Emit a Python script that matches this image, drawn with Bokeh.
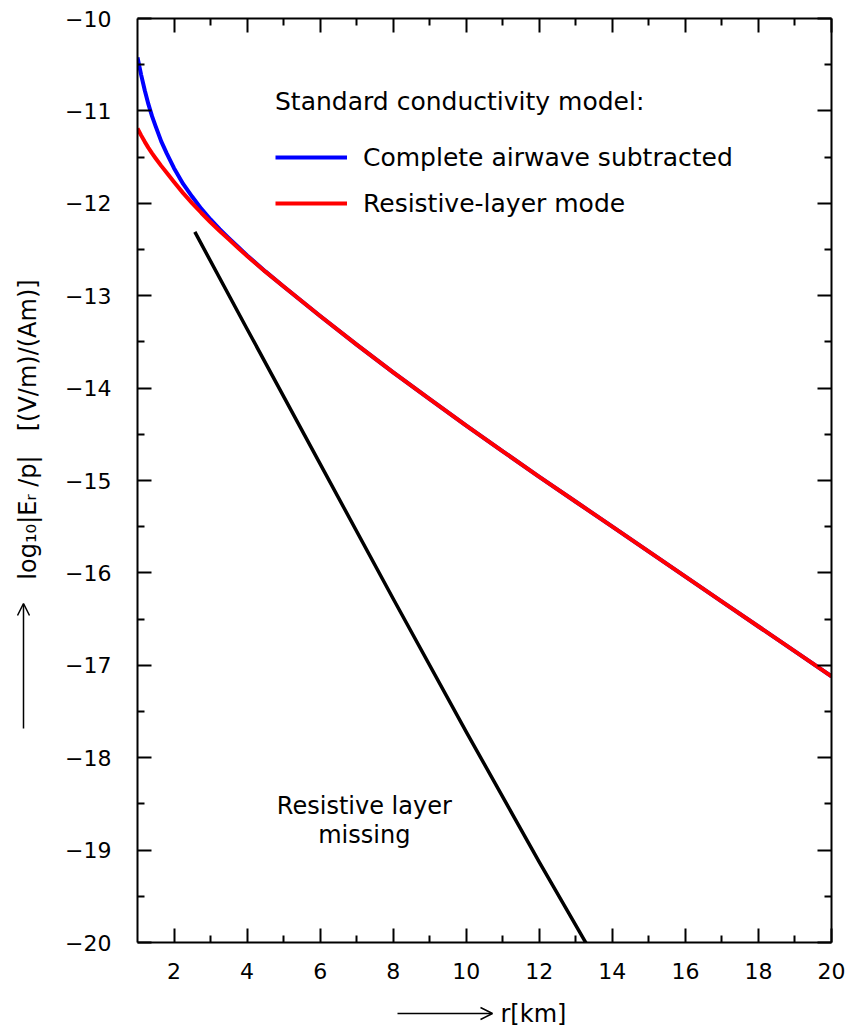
import math
from bokeh.plotting import figure
from bokeh.layouts import row, column
from bokeh.models import (LinearAxis, FixedTicker, Legend, LegendItem, Label,
                          Arrow, OpenHead, CustomJSTickFormatter, Range1d)
from bokeh.embed import file_html
from bokeh.resources import INLINE

FONT = "DejaVu Sans"

# ---- data ----
r_blue = [1.0, 1.1, 1.2, 1.3, 1.4, 1.5, 1.65, 1.8, 2.0, 2.25, 2.5, 2.75, 3.0,
          3.25, 3.5, 3.75, 4.0, 4.5, 5.0, 5.5, 6, 7, 8, 9, 10, 11, 12, 13, 14,
          15, 16, 17, 18, 19, 20]
e_blue = [-10.42, -10.61, -10.78, -10.93, -11.06, -11.17, -11.33, -11.46, -11.62,
          -11.79, -11.93, -12.06, -12.175, -12.28, -12.377, -12.47, -12.564,
          -12.737, -12.90, -13.06, -13.22, -13.53, -13.83, -14.12, -14.405,
          -14.685, -14.96, -15.23, -15.50, -15.77, -16.04, -16.31, -16.58,
          -16.85, -17.12]

r_red = [1.0, 1.1, 1.2, 1.3, 1.4, 1.5, 1.65, 1.8, 2.0, 2.25, 2.5, 2.75, 3.0,
         3.25, 3.5, 3.75, 4.0, 4.5, 5.0, 5.5, 6, 7, 8, 9, 10, 11, 12, 13, 14,
         15, 16, 17, 18, 19, 20]
e_red = [-11.19, -11.265, -11.335, -11.40, -11.46, -11.515, -11.595, -11.67,
         -11.77, -11.89, -12.00, -12.105, -12.205, -12.30, -12.39, -12.48,
         -12.57, -12.74, -12.90, -13.06, -13.22, -13.53, -13.83, -14.12,
         -14.405, -14.685, -14.96, -15.23, -15.50, -15.77, -16.04, -16.31,
         -16.58, -16.85, -17.12]

r_black = [2.57, 4.0, 6.0, 8.0, 10.0, 12.0, 13.3]
e_black = [-12.31, -13.36, -14.82, -16.28, -17.72, -19.13, -20.02]

x_major = [2, 4, 6, 8, 10, 12, 14, 16, 18, 20]
x_minor = [3, 5, 7, 9, 11, 13, 15, 17, 19]
y_major = [-10, -11, -12, -13, -14, -15, -16, -17, -18, -19, -20]
y_minor = [-10.5, -11.5, -12.5, -13.5, -14.5, -15.5, -16.5, -17.5, -18.5, -19.5]
y_labels = {v: "\u2212" + str(-v) for v in y_major}

label_blue = "Complete airwave subtracted"
label_red = "Resistive-layer mode"
legend_title = "Standard conductivity model:"
note_text = ["Resistive layer", "missing"]
y_title = "log\u2081\u2080|E\u1d63 /p|\u2003[(V/m)/(Am)]"
x_title = "r[km]"

# ---- main figure ----
p = figure(width=787, height=990, x_range=(1, 20), y_range=(-20, -10),
           output_backend="svg", toolbar_location=None,
           min_border_left=77, min_border_right=16, min_border_top=18,
           min_border_bottom=48)
p.xgrid.visible = False
p.ygrid.visible = False
p.outline_line_color = None
p.background_fill_color = "white"
p.border_fill_color = "white"

xt = FixedTicker(ticks=x_major, minor_ticks=x_minor)
yt = FixedTicker(ticks=y_major, minor_ticks=y_minor)


def style(ax):
    ax.axis_line_width = 2
    ax.axis_line_color = "black"
    ax.major_tick_in = 14
    ax.major_tick_out = 0
    ax.minor_tick_in = 7
    ax.minor_tick_out = 0
    ax.major_tick_line_width = 2
    ax.minor_tick_line_width = 2
    ax.major_tick_line_color = "black"
    ax.minor_tick_line_color = "black"
    ax.major_label_text_font = FONT
    ax.major_label_text_font_size = "22px"
    ax.major_label_text_color = "black"


bx = p.xaxis[0]
bx.ticker = xt
style(bx)
bx.major_label_standoff = 20

ly = p.yaxis[0]
ly.ticker = yt
style(ly)
ly.major_label_overrides = y_labels
ly.major_label_standoff = 26

empty = CustomJSTickFormatter(code="return ''")
top = LinearAxis(ticker=xt, formatter=empty)
style(top)
top.major_label_text_font_size = "0px"
top.major_label_standoff = 0
p.add_layout(top, "above")

right = LinearAxis(ticker=yt, formatter=empty)
style(right)
right.major_label_text_font_size = "0px"
right.major_label_standoff = 0
p.add_layout(right, "right")

# ---- curves ----
rb = p.line(r_blue, e_blue, line_color="#0000ff", line_width=4, line_join="round")
rr = p.line(r_red, e_red, line_color="#ff0000", line_width=4, line_join="round")
rk = p.line(r_black, e_black, line_color="black", line_width=3.5, line_join="round")

legend = Legend(items=[LegendItem(label=label_blue, renderers=[rb]),
                       LegendItem(label=label_red, renderers=[rr])],
                title=legend_title, location=(138, 724))
legend.border_line_color = None
legend.background_fill_alpha = 0
legend.title_text_font = FONT
legend.title_text_font_size = "25px"
legend.title_text_font_style = "normal"
legend.title_text_color = "black"
legend.label_text_font = FONT
legend.label_text_font_size = "25px"
legend.label_text_color = "black"
legend.glyph_width = 72
legend.glyph_height = 30
legend.label_height = 30
legend.label_standoff = 16
legend.spacing = 16
legend.title_standoff = 26
legend.padding = 10
legend.margin = 0
p.add_layout(legend)

p.add_layout(Label(x=7.21, y=-18.52, text=note_text[0], text_align="center",
                   text_baseline="alphabetic", text_font=FONT,
                   text_font_size="24px", text_color="black"))
p.add_layout(Label(x=7.21, y=-18.84, text=note_text[1], text_align="center",
                   text_baseline="alphabetic", text_font=FONT,
                   text_font_size="24px", text_color="black"))


def strip(w, h, xr, yr, bl=0, br=0):
    f = figure(width=w, height=h, x_range=Range1d(*xr), y_range=Range1d(*yr),
               output_backend="svg", toolbar_location=None,
               x_axis_location=None, y_axis_location=None,
               min_border=0, min_border_left=bl, min_border_right=br,
               min_border_top=0, min_border_bottom=0)
    f.xgrid.visible = False
    f.ygrid.visible = False
    f.outline_line_color = None
    f.background_fill_color = "white"
    f.border_fill_color = "white"
    return f


# left strip: y-axis title with arrow (page pixel coordinates)
L = strip(60, 1027, (0, 60), (1027, 0))
L.add_layout(Label(x=27, y=429, text=y_title, angle=math.pi / 2,
                   text_align="center", text_baseline="middle",
                   text_font=FONT, text_font_size="24px", text_color="black"))
L.add_layout(Arrow(end=OpenHead(size=12, line_width=1.5, line_color="black"),
                   x_start=23, y_start=728, x_end=23, y_end=603,
                   line_width=1.5, line_color="black"))

# bottom strip: x-axis title with arrow (its frame is aligned to the main frame)
B = strip(787, 37, (137, 831), (1027, 990), bl=77, br=16)
B.add_layout(Label(x=500, y=1013, text=x_title, text_align="left",
                   text_baseline="middle", text_font=FONT,
                   text_font_size="24px", text_color="black"))
B.add_layout(Arrow(end=OpenHead(size=12, line_width=1.5, line_color="black"),
                   x_start=397, y_start=1013, x_end=492, y_end=1013,
                   line_width=1.5, line_color="black"))

layout = row(L, column(p, B, spacing=0), spacing=0)

open("out.html", "w").write(file_html(layout, INLINE))
